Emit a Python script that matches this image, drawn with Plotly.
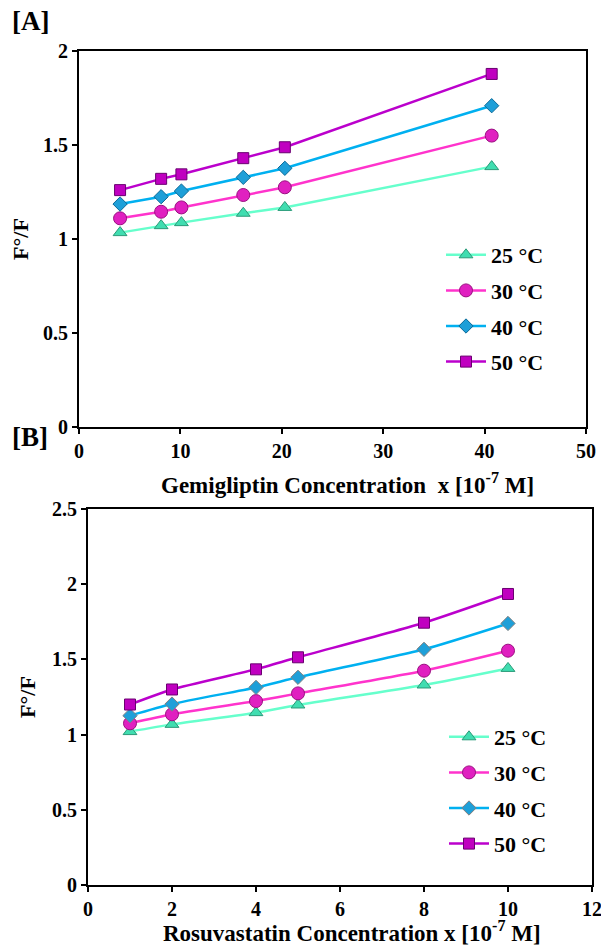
import plotly.graph_objects as go

# ---- Data ----
temps = ["25 °C", "30 °C", "40 °C", "50 °C"]

gemi_x = [4.05, 8.1, 10.1, 16.2, 20.3, 40.7]
gemi_25 = [1.034, 1.071, 1.087, 1.137, 1.168, 1.385]
gemi_30 = [1.110, 1.145, 1.168, 1.234, 1.275, 1.550]
gemi_40 = [1.186, 1.225, 1.255, 1.328, 1.376, 1.709]
gemi_50 = [1.260, 1.320, 1.344, 1.430, 1.488, 1.878]

rosu_x = [1, 2, 4, 5, 8, 10]
rosu_25 = [1.020, 1.068, 1.146, 1.197, 1.330, 1.440]
rosu_30 = [1.075, 1.135, 1.223, 1.274, 1.425, 1.558]
rosu_40 = [1.126, 1.203, 1.314, 1.381, 1.567, 1.739]
rosu_50 = [1.200, 1.300, 1.434, 1.514, 1.744, 1.935]

gemi_ticks_x = [0, 10, 20, 30, 40, 50]
gemi_ticks_y = [0, 0.5, 1, 1.5, 2]
rosu_ticks_x = [0, 2, 4, 6, 8, 10, 12]
rosu_ticks_y = [0, 0.5, 1, 1.5, 2, 2.5]

# ---- Styles ----
line_colors = ["#66FFCC", "#FF33CC", "#00B0F0", "#BB00CC"]
fill_colors = ["#40DDB0", "#E020C0", "#1E9FD8", "#C000C0"]
edge_colors_a = ["#2A9A78", "#9A1080", "#0A6A98", "#6A0070"]
edge_colors_b = ["#2A9A78", "#9A1080", "#808080", "#6A0070"]
symbols = ["triangle-up", "circle", "diamond", "square"]
sizes = [12, 13, 11, 11]

FONT = "Liberation Serif"

W, H = 601, 946


def px(v):
    return v / W


def py(v):
    return 1 - v / H


def bold(vals):
    return ["<b>%g</b>" % v for v in vals]


fig = go.Figure()

gemi_series = [gemi_25, gemi_30, gemi_40, gemi_50]
rosu_series = [rosu_25, rosu_30, rosu_40, rosu_50]

for i, name in enumerate(temps):
    fig.add_trace(go.Scatter(
        x=gemi_x, y=gemi_series[i], name="<b>" + name + "</b>", mode="lines+markers",
        line=dict(color=line_colors[i], width=2.5),
        marker=dict(symbol=symbols[i], size=sizes[i], color=fill_colors[i],
                    line=dict(color=edge_colors_a[i], width=1)),
        xaxis="x", yaxis="y", legend="legend", legendgroup="a" + str(i),
    ))

for i, name in enumerate(temps):
    fig.add_trace(go.Scatter(
        x=rosu_x, y=rosu_series[i], name="<b>" + name + "</b>", mode="lines+markers",
        line=dict(color=line_colors[i], width=2.5, shape="spline", smoothing=0.6),
        marker=dict(symbol=symbols[i], size=sizes[i], color=fill_colors[i],
                    line=dict(color=edge_colors_b[i], width=1)),
        xaxis="x2", yaxis="y2", legend="legend2", legendgroup="b" + str(i),
    ))

axis_common = dict(
    showline=True, linecolor="black", linewidth=2, mirror=True,
    ticks="outside", ticklen=5, tickwidth=2, tickcolor="black",
    showgrid=False, zeroline=False, automargin=False,
    ticklabeloverflow="allow",
    tickfont=dict(family=FONT, size=20, color="black"),
)
title_font = dict(family=FONT, size=22, color="black")
xtitle_font = dict(family=FONT, size=23, color="black")

fig.update_layout(
    width=W, height=H,
    margin=dict(l=0, r=0, t=0, b=0),
    paper_bgcolor="white", plot_bgcolor="white",
    font=dict(family=FONT, color="black"),
    xaxis=dict(domain=[px(79), px(586)], range=[0, 50], tickvals=gemi_ticks_x,
               ticktext=bold(gemi_ticks_x), anchor="y", **axis_common),
    yaxis=dict(domain=[py(427), py(51)], range=[0, 2],
               tickvals=gemi_ticks_y, ticktext=bold(gemi_ticks_y),
               anchor="x", **axis_common,
               title=dict(text="<b>F°/F</b>", font=title_font, standoff=8)),
    xaxis2=dict(domain=[px(88), px(592)], range=[0, 12], tickvals=rosu_ticks_x,
                ticktext=bold(rosu_ticks_x), anchor="y2", **axis_common),
    yaxis2=dict(domain=[py(885), py(509)], range=[0, 2.5],
                tickvals=rosu_ticks_y, ticktext=bold(rosu_ticks_y),
                anchor="x2", **axis_common,
                title=dict(text="<b>F°/F</b>", font=title_font, standoff=10)),
    legend=dict(x=px(441), y=py(234), xanchor="left", yanchor="top",
                bgcolor="rgba(0,0,0,0)", tracegroupgap=4, itemwidth=40,
                font=dict(family=FONT, size=22, color="black")),
    legend2=dict(x=px(444), y=py(716), xanchor="left", yanchor="top",
                 bgcolor="rgba(0,0,0,0)", tracegroupgap=4, itemwidth=40,
                 font=dict(family=FONT, size=22, color="black")),
    annotations=[
        dict(text="<b>[A]</b>", x=px(10), y=py(4), xref="paper", yref="paper",
             xanchor="left", yanchor="top", showarrow=False,
             font=dict(family=FONT, size=27, color="black")),
        dict(text="<b>[B]</b>", x=px(10), y=py(420), xref="paper", yref="paper",
             xanchor="left", yanchor="top", showarrow=False,
             font=dict(family=FONT, size=27, color="black")),
        dict(text="<b>Gemigliptin Concentration  x [10<sup>-7</sup> M]</b>",
             x=px(347), y=py(483), xref="paper", yref="paper",
             xanchor="center", yanchor="middle", showarrow=False, font=xtitle_font),
        dict(text="<b>Rosuvastatin Concentration x [10<sup>-7</sup> M]</b>",
             x=px(352), y=py(931), xref="paper", yref="paper",
             xanchor="center", yanchor="middle", showarrow=False, font=xtitle_font),
    ],
)

fig.write_html(
    "out.html",
    config={"displayModeBar": False},
    post_script=("document.documentElement.style.margin='0';"
                 "document.body.style.margin='0';"
                 "document.body.style.overflow='hidden';"
                 "document.documentElement.style.overflow='hidden';"),
)
